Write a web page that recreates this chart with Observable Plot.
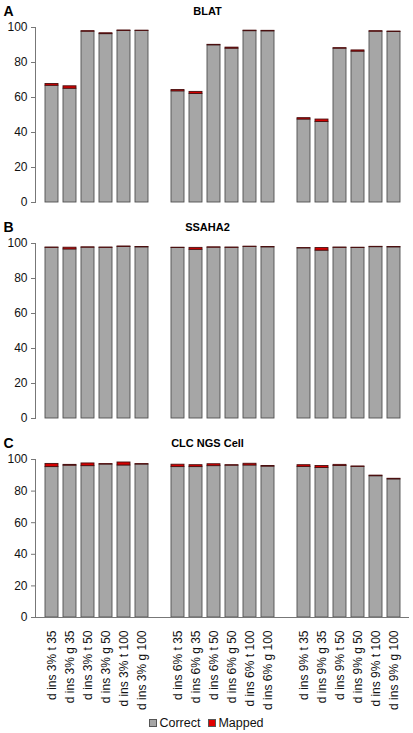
<!DOCTYPE html>
<html>
<head>
<meta charset="utf-8">
<script src="https://cdn.jsdelivr.net/npm/d3@7"></script>
<script src="https://cdn.jsdelivr.net/npm/@observablehq/plot@0.6"></script>
<style>
  html, body { margin: 0; padding: 0; background: #fff; }
  body { width: 413px; height: 733px; position: relative; overflow: hidden; font-family: "Liberation Sans", Arial, sans-serif; }
  .panel { position: absolute; left: 0; }
  .legend { position: absolute; left: 0; width: 413px; top: 716px; text-align: center; font-size: 12.5px; color: #111; line-height: 14px; }
  .legend span.sw { display: inline-block; width: 6px; height: 6px; border: 0.5px solid #555; margin-right: 2px; vertical-align: 0px; }
  .legend .item { margin: 0 4px; }
</style>
</head>
<body>
<div id="A" class="panel" style="top:0px"></div>
<div id="B" class="panel" style="top:216px"></div>
<div id="C" class="panel" style="top:432px"></div>
<div class="legend"><span class="item"><span class="sw" style="background:#a6a6a6"></span>Correct</span><span class="item"><span class="sw" style="background:#e00000"></span>Mapped</span></div>
<script>
const categories = [
  "d ins 3% t 35","d ins 3% g 35","d ins 3% t 50","d ins 3% g 50","d ins 3% t 100","d ins 3% g 100",
  "d ins 6% t 35","d ins 6% g 35","d ins 6% t 50","d ins 6% g 50","d ins 6% t 100","d ins 6% g 100",
  "d ins 9% t 35","d ins 9% g 35","d ins 9% t 50","d ins 9% g 50","d ins 9% t 100","d ins 9% g 100"
];
const seriesNames = ["Correct", "Mapped"];
const panelLetters = ["A", "B", "C"];
const panelTitles = ["BLAT", "SSAHA2", "CLC NGS Cell"];
const yTicks = [0, 20, 40, 60, 80, 100];

const blatCorrect = [66.7, 65.0, 97.6, 96.2, 98.0, 98.0,  63.5, 62.0, 89.8, 87.9, 97.9, 97.8,  47.4, 46.0, 87.9, 86.2, 97.6, 97.4];
const blatMapped  = [1.0, 1.4, 0.3, 0.5, 0.3, 0.2,  0.8, 1.2, 0.3, 0.6, 0.3, 0.3,  0.8, 1.4, 0.3, 0.7, 0.3, 0.3];
const ssahaCorrect = [97.5, 96.6, 97.6, 97.5, 98.0, 97.8,  97.4, 96.4, 97.6, 97.5, 98.0, 97.8,  97.2, 95.9, 97.5, 97.4, 97.9, 97.8];
const ssahaMapped  = [0.2, 1.0, 0.2, 0.2, 0.3, 0.2,  0.2, 1.1, 0.2, 0.2, 0.2, 0.2,  0.2, 1.5, 0.2, 0.2, 0.2, 0.2];
const clcCorrect = [95.2, 96.1, 95.8, 96.8, 96.2, 96.8,  95.2, 95.2, 95.8, 96.1, 96.2, 95.5,  95.3, 94.6, 95.9, 95.3, 89.4, 87.4];
const clcMapped  = [2.0, 0.5, 1.7, 0.3, 1.9, 0.3,  1.5, 1.2, 1.2, 0.3, 1.1, 0.4,  1.1, 1.3, 0.7, 0.3, 0.4, 0.4];

// x domain with one empty slot between the three groups
const gapA = " ", gapB = "  ";
const xDomain = [...categories.slice(0, 6), gapA, ...categories.slice(6, 12), gapB, ...categories.slice(12)];

const colors = { Correct: "#a6a6a6", Mapped: "#d40000" };

function makePanel(idx, correct, mapped, withLabels) {
  const data = [];
  categories.forEach((c, i) => {
    data.push({ cat: c, series: "Correct", value: correct[i] });
    data.push({ cat: c, series: "Mapped", value: mapped[i] });
  });
  const plotH = withLabels ? 158 : 175;
  const marginBottom = withLabels ? 93 : 4;
  const marks = [
    Plot.barY(data, {
      x: "cat", y: "value", fill: "series",
      stroke: d => d.series === "Correct" ? "#505050" : "#4a1010",
      strokeWidth: 0.9
    }),
    Plot.frame({ anchor: "left", stroke: "#777" }),
    Plot.axisY({ ticks: yTicks, tickSize: 4, tickPadding: 4, fontSize: 12, stroke: "#777", color: "#111", label: null, tickFormat: d => d }),
    Plot.text([panelLetters[idx]], { text: d => d, frameAnchor: "top-left", dx: -32, dy: -12, lineAnchor: "bottom", textAnchor: "start", fontSize: 14, fontWeight: "bold", fill: "#000" }),
    Plot.text([panelTitles[idx]], { text: d => d, frameAnchor: "top", dx: -15, dy: -13, lineAnchor: "bottom", fontSize: 11, fontWeight: "bold", fill: "#000" })
  ];
  if (withLabels) {
    marks.push(Plot.ruleY([0], { stroke: "#777" }));
    marks.push(Plot.axisX({ tickSize: 0, tickPadding: 13, tickRotate: -90, fontSize: 12, color: "#111", label: null, tickFormat: d => d.trim() }));
  }
  return Plot.plot({
    width: 413,
    height: 27 + plotH + marginBottom,
    marginLeft: 35,
    marginRight: 4,
    marginTop: 27,
    marginBottom,
    style: { fontFamily: "Liberation Sans, Arial, sans-serif", overflow: "visible", background: "transparent" },
    x: { domain: xDomain, paddingInner: 0.3, paddingOuter: 0.15, axis: null },
    y: { domain: [0, 100], axis: null },
    color: { domain: seriesNames, range: seriesNames.map(s => colors[s]) },
    marks
  });
}

document.getElementById("A").append(makePanel(0, blatCorrect, blatMapped, false));
document.getElementById("B").append(makePanel(1, ssahaCorrect, ssahaMapped, false));
document.getElementById("C").append(makePanel(2, clcCorrect, clcMapped, true));
</script>
</body>
</html>
